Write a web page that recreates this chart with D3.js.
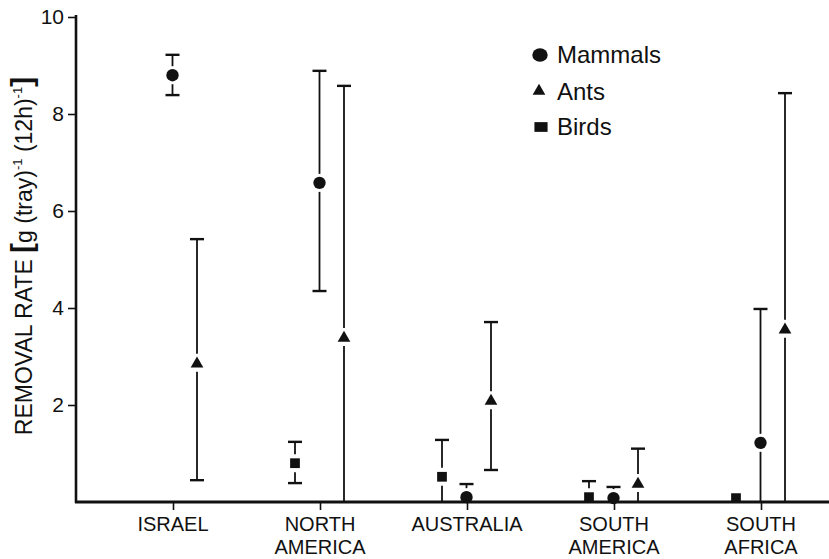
<!DOCTYPE html>
<html>
<head>
<meta charset="utf-8">
<script src="https://cdn.jsdelivr.net/npm/d3@7"></script>
<style>
  body { margin: 0; background: #fff; }
  text { font-family: "Liberation Sans", Arial, sans-serif; fill: #111; }
</style>
</head>
<body>
<div id="chart"></div>
<script>
// category labels (split over lines like the original)
var categories = ["ISRAEL", "NORTH AMERICA", "AUSTRALIA", "SOUTH AMERICA", "SOUTH AFRICA"];
var categoryLines = [["ISRAEL"], ["NORTH", "AMERICA"], ["AUSTRALIA"], ["SOUTH", "AMERICA"], ["SOUTH", "AFRICA"]];

// removal rate, g (tray)^-1 (12h)^-1 ; lo / hi are the error bar ends
var mammals   = [8.80, 6.58, 0.10, 0.08, 1.22];
var mammalsLo = [8.39, 4.35, 0.00, 0.00, 0.00];
var mammalsHi = [9.22, 8.89, 0.37, 0.31, 3.98];

var ants   = [2.87, 3.40, 2.10, 0.39, 3.57];
var antsLo = [0.45, 0.00, 0.66, 0.00, 0.00];
var antsHi = [5.42, 8.58, 3.71, 1.10, 8.43];

var birds   = [null, 0.80, 0.52, 0.10, 0.08];
var birdsLo = [null, 0.39, 0.00, 0.00, 0.08];
var birdsHi = [null, 1.24, 1.28, 0.43, 0.08];

var seriesNames = ["Birds", "Mammals", "Ants"];
var yTicks = [2, 4, 6, 8, 10];

var W = 829, H = 559;

var svg = d3.select("#chart").append("svg")
    .attr("width", W)
    .attr("height", H);

// scales
var x = d3.scalePoint().domain(categories).range([173, 761]);
var offset = d3.scalePoint().domain(seriesNames).range([-25, 24]);
var y = d3.scaleLinear().domain([0, 10]).range([502, 17]);

// build one table from the arrays
var points = [];
categories.forEach(function(c, i) {
  points.push({cat: c, series: "Birds", v: birds[i], lo: birdsLo[i], hi: birdsHi[i]});
  points.push({cat: c, series: "Mammals", v: mammals[i], lo: mammalsLo[i], hi: mammalsHi[i]});
  points.push({cat: c, series: "Ants", v: ants[i], lo: antsLo[i], hi: antsHi[i]});
});
points = points.filter(function(d) { return d.v != null; });

function px(d) { return x(d.cat) + offset(d.series); }

// y axis
var yAxis = svg.append("g")
    .attr("transform", "translate(76,0)")
    .call(d3.axisLeft(y).tickValues(yTicks).tickSize(8).tickPadding(4).tickFormat(d3.format("d")));
yAxis.select(".domain").remove();
yAxis.selectAll("line").attr("stroke", "#111").attr("stroke-width", 1.6);
yAxis.selectAll("text").style("font-size", "21px").attr("fill", "#111")
    .style("font-family", "'Liberation Sans', Arial, sans-serif");

svg.append("line")
    .attr("x1", 76).attr("x2", 76)
    .attr("y1", y(10) - 2).attr("y2", y(0) + 1)
    .attr("stroke", "#111").attr("stroke-width", 2.6);

// x axis
var xAxis = svg.append("g")
    .attr("transform", "translate(0," + y(0) + ")")
    .call(d3.axisBottom(x).tickSize(8).tickFormat(""));
xAxis.select(".domain").remove();
xAxis.selectAll("line").attr("stroke", "#111").attr("stroke-width", 1.6);

svg.append("line")
    .attr("x1", 75).attr("x2", W)
    .attr("y1", y(0)).attr("y2", y(0))
    .attr("stroke", "#111").attr("stroke-width", 2.8);

// category labels, one text per line
categories.forEach(function(c, i) {
  categoryLines[i].forEach(function(line, j) {
    svg.append("text")
        .attr("x", x(c))
        .attr("y", 531 + j * 23)
        .attr("text-anchor", "middle")
        .style("font-size", "20px")
        .text(line);
  });
});

// error bars, with a small gap around the marker
var gap = 9;
var bars = svg.append("g").attr("stroke", "#111");

points.filter(function(d) { return d.hi > d.v; }).forEach(function(d) {
  if (y(d.v) - gap > y(d.hi)) {
    bars.append("line")
        .attr("x1", px(d)).attr("x2", px(d))
        .attr("y1", y(d.hi)).attr("y2", y(d.v) - gap)
        .attr("stroke-width", 1.8);
  }
  bars.append("line")
      .attr("x1", px(d) - 7).attr("x2", px(d) + 7)
      .attr("y1", y(d.hi)).attr("y2", y(d.hi))
      .attr("stroke-width", 2.4);
});

points.filter(function(d) { return d.lo < d.v && y(d.v) + gap < y(d.lo); }).forEach(function(d) {
  bars.append("line")
      .attr("x1", px(d)).attr("x2", px(d))
      .attr("y1", y(d.v) + gap).attr("y2", y(d.lo))
      .attr("stroke-width", 1.8);
  if (d.lo > 0) {
    bars.append("line")
        .attr("x1", px(d) - 7).attr("x2", px(d) + 7)
        .attr("y1", y(d.lo)).attr("y2", y(d.lo))
        .attr("stroke-width", 2.4);
  }
});

// markers
var symbolFor = {
  Mammals: d3.symbol().type(d3.symbolCircle).size(120),
  Ants: d3.symbol().type(d3.symbolTriangle).size(70),
  Birds: d3.symbol().type(d3.symbolSquare).size(95)
};

svg.append("g").selectAll("path")
    .data(points)
    .enter()
    .append("path")
    .attr("d", function(d) { return symbolFor[d.series](); })
    .attr("transform", function(d) {
      var dy = d.series === "Ants" ? 1 : 0;
      return "translate(" + px(d) + "," + (y(d.v) + dy) + ")";
    })
    .attr("fill", "#111");

// legend
var legend = [
  {name: "Mammals", sx: 540, sy: 55, ty: 63, sc: " scale(1.25,1.1)"},
  {name: "Ants", sx: 539, sy: 91, ty: 100, sc: ""},
  {name: "Birds", sx: 541, sy: 127, ty: 135, sc: " scale(1.35,1)"}
];
legend.forEach(function(l) {
  svg.append("path")
      .attr("d", symbolFor[l.name]())
      .attr("transform", "translate(" + l.sx + "," + l.sy + ")" + l.sc)
      .attr("fill", "#111");
  svg.append("text")
      .attr("x", 557)
      .attr("y", l.ty)
      .style("font-size", "24px")
      .text(l.name);
});

// y axis title
var yt = svg.append("text")
    .attr("transform", "translate(32,256) rotate(-90)")
    .attr("text-anchor", "middle")
    .style("font-size", "23px");
yt.append("tspan").text("REMOVAL RATE ");
yt.append("tspan").style("font-weight", "bold").style("font-size", "30px").text("[");
yt.append("tspan").text("g (tray)");
yt.append("tspan").attr("dy", -10).style("font-size", "13px").text("-1");
yt.append("tspan").attr("dy", 10).text(" (12h)");
yt.append("tspan").attr("dy", -10).style("font-size", "13px").text("-1");
yt.append("tspan").attr("dy", 10).style("font-weight", "bold").style("font-size", "30px").text("]");
</script>
</body>
</html>
